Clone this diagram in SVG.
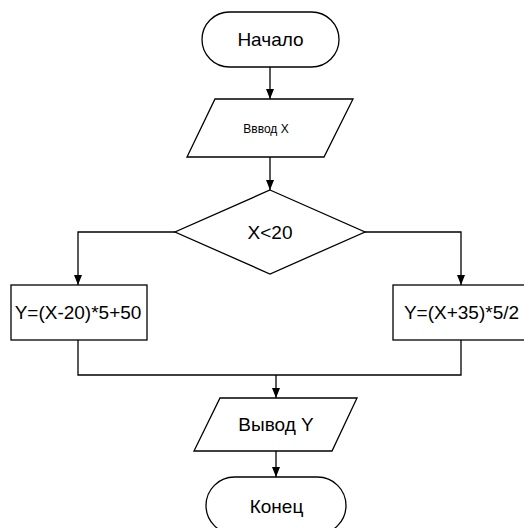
<svg xmlns="http://www.w3.org/2000/svg" width="524" height="528" viewBox="0 0 524 528">
  <defs>
    <style>
      .shape { fill: #ffffff; stroke: #000000; stroke-width: 1.3; }
      .line { fill: none; stroke: #000000; stroke-width: 1.3; }
      .label { font-family: "Liberation Sans", Arial, sans-serif; font-size: 19px; fill: #000000; text-anchor: middle; }
      .small { font-size: 12px; }
    </style>
    <marker id="arrow" viewBox="0 0 10 8" refX="10" refY="4" markerWidth="10" markerHeight="8" markerUnits="userSpaceOnUse" orient="auto">
      <path d="M0,0 L10,4 L0,8 Z" fill="#000000"/>
    </marker>
  </defs>
  <rect width="524" height="528" fill="#ffffff"/>

  <g id="connectors">
    <line class="line" x1="270" y1="67" x2="270" y2="99" marker-end="url(#arrow)"/>
    <line class="line" x1="270" y1="157" x2="270" y2="190" marker-end="url(#arrow)"/>
    <polyline class="line" points="175,232 78,232 78,285" marker-end="url(#arrow)"/>
    <polyline class="line" points="365,232 461,232 461,285" marker-end="url(#arrow)"/>
    <polyline class="line" points="78,340 78,375 461,375 461,340"/>
    <line class="line" x1="276" y1="375" x2="276" y2="398" marker-end="url(#arrow)"/>
    <line class="line" x1="276" y1="451" x2="276" y2="477" marker-end="url(#arrow)"/>
  </g>

  <g id="start">
    <rect class="shape" x="202" y="12" width="137" height="55" rx="27.5" ry="27.5"/>
    <text class="label" x="270.5" y="46">Начало</text>
  </g>

  <g id="input">
    <polygon class="shape" points="215,99 353,99 324,157 187,157"/>
    <text class="label small" x="266" y="133">Вввод X</text>
  </g>

  <g id="decision">
    <polygon class="shape" points="270,190 365,232 270,274 175,232"/>
    <text class="label" x="270" y="239">X&lt;20</text>
  </g>

  <g id="calc-left">
    <rect class="shape" x="11" y="285" width="136" height="55"/>
    <text class="label" x="78" y="319">Y=(X-20)*5+50</text>
  </g>

  <g id="calc-right">
    <rect class="shape" x="393" y="285" width="136" height="55"/>
    <text class="label" x="461.5" y="319">Y=(X+35)*5/2</text>
  </g>

  <g id="output">
    <polygon class="shape" points="220,398 357,398 332,451 194,451"/>
    <text class="label" x="276" y="431">Вывод Y</text>
  </g>

  <g id="end">
    <rect class="shape" x="206" y="477" width="140" height="57" rx="28.5" ry="28.5"/>
    <text class="label" x="276.5" y="513">Конец</text>
  </g>
</svg>
